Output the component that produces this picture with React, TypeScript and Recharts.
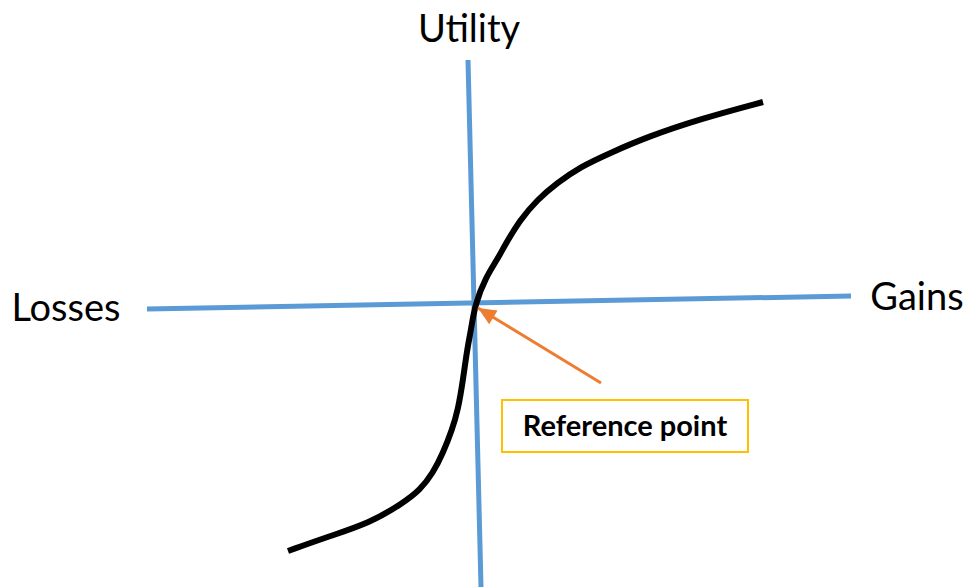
import { Line, LineChart, ReferenceArea, ReferenceDot, XAxis, YAxis } from 'recharts'

// Coordinates: gains (x) and utility (y), origin at the reference point
const curveGains = [-187, -148, -105, -72, -55, -42, -32, -23, -17, -12, -8, -4, 0, 11, 22, 30, 45, 62, 82, 105, 135, 172, 225, 288]
const curveUtility = [-247, -233, -219, -199, -186, -169, -149, -126, -106, -76, -46, -26, 0, 27, 44, 59, 84, 104, 121, 137, 151, 167, 185, 202]

const gainsAxisX = [-328, 376]
const gainsAxisY = [-5, 8]
const utilityAxisX = [-7, 6]
const utilityAxisY = [244, -283]

const arrowX = [126, 3]
const arrowY = [-79, -4]

const labels = [
  { text: 'Utility', x: -6, y: 275 },
  { text: 'Losses', x: -409, y: -4 },
  { text: 'Gains', x: 442, y: 7 },
]

const boxX = [27, 273]
const boxY = [-148, -96]

const X_DOMAIN: [number, number] = [-475, 494]
const Y_DOMAIN: [number, number] = [-283, 304]

const toPoints = (xs: number[], ys: number[]) => xs.map((x, i) => ({ x, y: ys[i] }))

const curveData = toPoints(curveGains, curveUtility)
const gainsAxisData = toPoints(gainsAxisX, gainsAxisY)
const utilityAxisData = toPoints(utilityAxisX, utilityAxisY)
const arrowData = toPoints(arrowX, arrowY)

const BLUE = '#5B9BD5'
const ORANGE = '#ED7D31'

function ArrowHead(props: any) {
  const { cx, cy, index } = props
  if (index !== arrowData.length - 1 || cx == null) return <g key={`ah-${index}`} />
  // chart scale is 1:1 in both directions, y flipped
  const dx = arrowX[1] - arrowX[0]
  const dy = -(arrowY[1] - arrowY[0])
  const len = Math.hypot(dx, dy)
  const ux = dx / len
  const uy = dy / len
  const size = 18
  const half = 8
  const bx = cx - ux * size
  const by = cy - uy * size
  const pts = [
    [cx, cy],
    [bx - uy * half, by + ux * half],
    [bx + uy * half, by - ux * half],
  ]
  return <polygon key={`ah-${index}`} points={pts.map((p) => p.join(',')).join(' ')} fill={ORANGE} />
}

export default function App() {
  return (
    <div style={{ position: 'absolute', left: 0, top: 0, width: 969, height: 587, background: '#fff' }}>
      <LineChart width={969} height={587} margin={{ top: 0, right: 0, bottom: 0, left: 0 }}>
        <XAxis type="number" dataKey="x" domain={X_DOMAIN} allowDataOverflow hide />
        <YAxis type="number" domain={Y_DOMAIN} allowDataOverflow hide />
        <Line data={gainsAxisData} dataKey="y" type="linear" stroke={BLUE} strokeWidth={5} dot={false} activeDot={false} isAnimationActive={false} />
        <Line data={utilityAxisData} dataKey="y" type="linear" stroke={BLUE} strokeWidth={5} dot={false} activeDot={false} isAnimationActive={false} />
        <Line data={curveData} dataKey="y" type="basis" stroke="#000" strokeWidth={6} dot={false} activeDot={false} isAnimationActive={false} />
        <Line
          data={arrowData}
          dataKey="y"
          type="linear"
          stroke={ORANGE}
          strokeWidth={3}
          dot={ArrowHead}
          activeDot={false}
          isAnimationActive={false}
        />
        <ReferenceArea
          x1={boxX[0]}
          x2={boxX[1]}
          y1={boxY[0]}
          y2={boxY[1]}
          fill="#fff"
          fillOpacity={1}
          stroke="#FFC000"
          strokeWidth={2}
          label={{ value: 'Reference point', position: 'center', fill: '#000', fontSize: 29, fontWeight: 700, fontFamily: 'Lato' }}
        />
        {labels.map((l) => (
          <ReferenceDot
            key={l.text}
            x={l.x}
            y={l.y}
            r={0}
            fill="none"
            stroke="none"
            label={{ value: l.text, position: 'center', fill: '#000', fontSize: 38, fontFamily: 'Lato' }}
          />
        ))}
      </LineChart>
    </div>
  )
}
